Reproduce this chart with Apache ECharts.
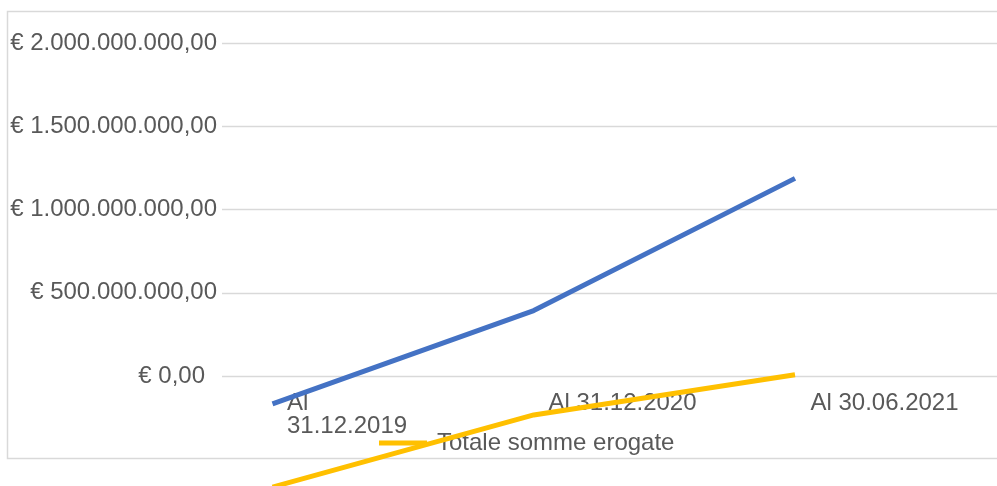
<!DOCTYPE html>
<html>
<head>
<meta charset="utf-8">
<script src="https://cdn.jsdelivr.net/npm/echarts@6/dist/echarts.min.js"></script>
<style>
  html, body { margin: 0; padding: 0; background: #ffffff; }
  #chart { width: 997px; height: 486px; }
</style>
</head>
<body>
<div id="chart"></div>
<script>
// Reporting dates
const categories = ['Al 31.12.2019', 'Al 31.12.2020', 'Al 30.06.2021'];

// Series values (euro)
const seriesBlue = [-168000000, 393000000, 1187000000];
const seriesYellowName = 'Totale somme erogate';
const seriesYellow = [-667000000, -234000000, 8000000];

// Value axis ticks
const yMin = 0;
const yMax = 2000000000;
const yStep = 500000000;

const FONT = '"Liberation Sans", Arial, sans-serif';
const TEXT = '#595959';
const GRID = '#D9D9D9';

// Italian currency format: € 1.500.000.000,00
function euro(v) {
  const intPart = Math.round(Math.abs(v)).toString().replace(/\B(?=(\d{3})+(?!\d))/g, '.');
  return (v < 0 ? '-' : '') + '€ ' + intPart + ',00';
}

const chart = echarts.init(document.getElementById('chart'), null, { renderer: 'canvas' });

chart.setOption({
  animation: false,
  backgroundColor: '#ffffff',
  textStyle: { fontFamily: FONT },
  graphic: [{
    type: 'rect',
    z: 0,
    shape: { x: 7.5, y: 11.5, width: 1100, height: 447 },
    style: { fill: 'none', stroke: GRID, lineWidth: 1.5 }
  }],
  legend: {
    z: 1,
    left: 379,
    top: 431,
    padding: 0,
    itemWidth: 48,
    itemHeight: 5,
    data: [{ name: seriesYellowName, icon: 'rect' }],
    textStyle: { color: TEXT, fontSize: 24, fontFamily: FONT, padding: [0, 0, 0, 5] }
  },
  grid: [
    // axis frame: gridlines, value labels, date labels
    { left: 222, top: 43, width: 786, height: 333, containLabel: false, outerBoundsMode: 'none' },
    // line plot frame
    { left: 272.5, top: 43, width: 522.5, height: 333, containLabel: false, outerBoundsMode: 'none' }
  ],
  xAxis: [
    {
      type: 'category',
      gridIndex: 0,
      data: categories,
      boundaryGap: true,
      axisLine: { show: false },
      axisTick: { show: false },
      splitLine: { show: false },
      axisLabel: {
        interval: 0,
        margin: 16,
        color: TEXT,
        fontSize: 24,
        fontFamily: FONT,
        formatter: function (val, idx) {
          if (idx === 0) {
            const parts = val.split(' ');
            return '{f|' + parts[0] + '}\n{f|' + parts.slice(1).join(' ') + '}';
          }
          return '{c|' + val + '}';
        },
        rich: {
          f: { width: 132, align: 'left', fontSize: 24, lineHeight: 23, color: TEXT, fontFamily: FONT },
          c: { padding: [0, 0, 0, 15], fontSize: 24, lineHeight: 23, color: TEXT, fontFamily: FONT }
        }
      }
    },
    {
      type: 'category',
      gridIndex: 1,
      data: categories,
      boundaryGap: false,
      show: false
    }
  ],
  yAxis: [
    {
      type: 'value',
      gridIndex: 0,
      min: yMin,
      max: yMax,
      interval: yStep,
      axisLine: { show: false },
      axisTick: { show: false },
      splitLine: { show: true, lineStyle: { color: GRID, width: 1.3 } },
      axisLabel: {
        margin: 5,
        color: TEXT,
        fontSize: 24,
        fontFamily: FONT,
        formatter: function (v) {
          return v === 0 ? '{z|' + euro(v) + '}' : euro(v);
        },
        rich: {
          z: { padding: [0, 12, 0, 0], fontSize: 24, color: TEXT, fontFamily: FONT }
        }
      }
    },
    {
      type: 'value',
      gridIndex: 1,
      min: yMin,
      max: yMax,
      show: false
    }
  ],
  series: [
    {
      type: 'line',
      xAxisIndex: 1,
      yAxisIndex: 1,
      data: seriesBlue,
      symbol: 'none',
      clip: false,
      z: 10,
      lineStyle: { color: '#4472C4', width: 5 },
      itemStyle: { color: '#4472C4' }
    },
    {
      name: seriesYellowName,
      type: 'line',
      xAxisIndex: 1,
      yAxisIndex: 1,
      data: seriesYellow,
      symbol: 'none',
      clip: false,
      z: 10,
      lineStyle: { color: '#FFC000', width: 5 },
      itemStyle: { color: '#FFC000' }
    }
  ]
});
</script>
</body>
</html>
